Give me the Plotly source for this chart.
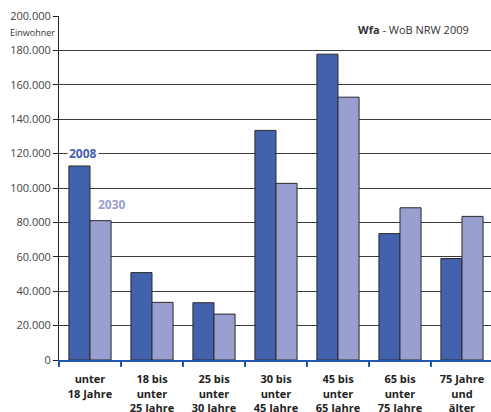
import plotly.graph_objects as go

# Age groups (x categories), tick labels with line breaks
categories = ["unter 18", "18-25", "25-30", "30-45", "45-65", "65-75", "75+"]
tick_labels = [
    "<b>unter<br>18 Jahre</b>",
    "<b>18 bis<br>unter<br>25 Jahre</b>",
    "<b>25 bis<br>unter<br>30 Jahre</b>",
    "<b>30 bis<br>unter<br>45 Jahre</b>",
    "<b>45 bis<br>unter<br>65 Jahre</b>",
    "<b>65 bis<br>unter<br>75 Jahre</b>",
    "<b>75 Jahre<br>und<br>älter</b>",
]

# Population (Einwohner) per age group
values_2008 = [112800, 50800, 33300, 133500, 177800, 73500, 59000]
values_2030 = [81000, 33500, 26700, 102700, 152800, 88500, 83500]

y_ticks = [0, 20000, 40000, 60000, 80000, 100000, 120000, 140000, 160000, 180000, 200000]

color_2008 = "#4262AE"
color_2030 = "#99A0D0"
font_family = "Open Sans, Noto Sans, DejaVu Sans, sans-serif"

fig = go.Figure()
fig.add_trace(go.Bar(
    x=categories, y=values_2008, name="2008",
    marker=dict(color=color_2008, line=dict(color="#2a2a2a", width=1)),
))
fig.add_trace(go.Bar(
    x=categories, y=values_2030, name="2030",
    marker=dict(color=color_2030, line=dict(color="#2a2a2a", width=1)),
))

fig.update_layout(
    width=491, height=412,
    margin=dict(l=59, r=0, t=16, b=52),
    paper_bgcolor="white", plot_bgcolor="white",
    barmode="group", bargap=0.32, bargroupgap=0,
    showlegend=False,
    separators=",.",
    font=dict(family=font_family, color="#333333"),
)

fig.update_xaxes(
    type="category",
    range=[-0.5, 6.468],
    tickmode="array", tickvals=categories, ticktext=tick_labels,
    tickson="boundaries",
    ticks="outside", ticklen=5, tickwidth=2, tickcolor="#2058B0",
    showline=True, linecolor="#2058B0", linewidth=2,
    showgrid=False,
    tickfont=dict(size=11, color="#222222", family=font_family),
    tickangle=0,
    ticklabelstandoff=8,
    automargin=False,
)

fig.update_yaxes(
    range=[0, 200000],
    tickmode="array", tickvals=y_ticks,
    tickformat=",d",
    ticks="outside", ticklen=5, tickcolor="#222222",
    showline=True, linecolor="#222222", linewidth=1,
    showgrid=True, gridcolor="#3a3a3a", gridwidth=1,
    zeroline=False,
    tickfont=dict(size=11, color="#444444", family=font_family),
    automargin=False,
)

fig.add_annotation(
    x=-0.113, y=120000, xref="x", yref="y",
    text="<b>2008</b>", showarrow=False,
    font=dict(size=12, color=color_2008, family=font_family),
    bgcolor="white", borderpad=1,
)
fig.add_annotation(
    x=0.355, y=90700, xref="x", yref="y",
    text="<b>2030</b>", showarrow=False,
    font=dict(size=12, color=color_2030, family=font_family),
)
fig.add_annotation(
    x=-0.005, y=190300, xref="paper", yref="y",
    xanchor="right", text="Einwohner", showarrow=False,
    font=dict(size=9, color="#333333", family=font_family),
)
fig.add_annotation(
    x=0.954, y=191900, xref="paper", yref="y",
    xanchor="right", text="<b>Wfa</b> - WoB NRW 2009", showarrow=False,
    font=dict(size=11, color="#333333", family=font_family),
)

fig.write_html("out.html")
